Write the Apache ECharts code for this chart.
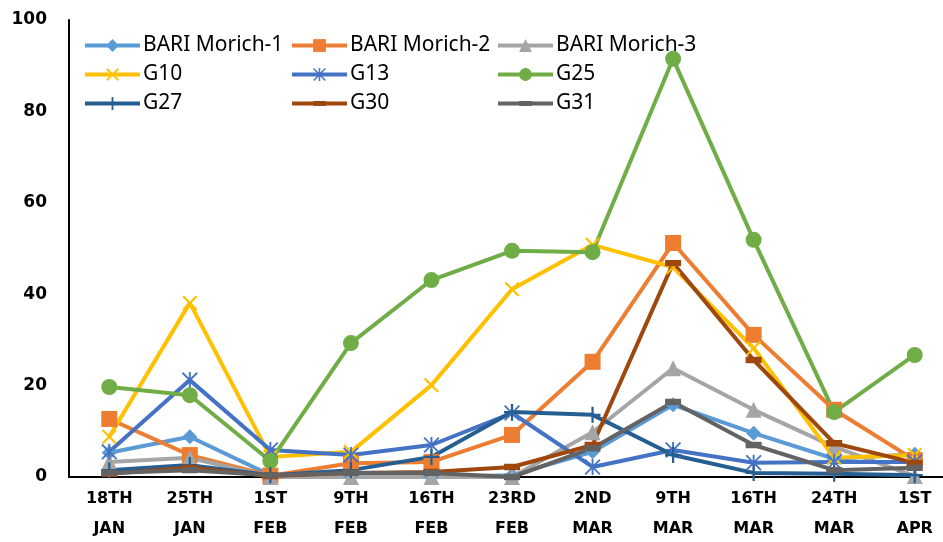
<!DOCTYPE html>
<html>
<head>
<meta charset="utf-8">
<script src="https://cdn.jsdelivr.net/npm/echarts@6/dist/echarts.min.js"></script>
<style>
  html, body { margin: 0; padding: 0; background: #ffffff; }
  #chart { width: 943px; height: 542px; }
</style>
</head>
<body>
<div id="chart"></div>
<script>
// Sampling dates
const categories = ['18TH\nJAN', '25TH\nJAN', '1ST\nFEB', '9TH\nFEB', '16TH\nFEB', '23RD\nFEB',
                    '2ND\nMAR', '9TH\nMAR', '16TH\nMAR', '24TH\nMAR', '1ST\nAPR'];

// Values per genotype
const bariMorich1 = [5.3, 8.8, 0.4, 0.2, 0, 0.4, 5.5, 15.8, 9.6, 4.0, 5.0];
const bariMorich2 = [12.7, 4.8, 0.3, 3.0, 3.3, 9.2, 25.2, 51.2, 31.1, 14.7, 3.7];
const bariMorich3 = [3.3, 4.2, 0, 0, 0, 0, 9.8, 23.8, 14.7, 6.6, 0.2];
const g10 = [8.8, 38.1, 4.4, 5.5, 20.1, 41.1, 50.8, 45.9, 28.2, 4.2, 4.8];
const g13 = [5.5, 21.2, 5.9, 4.8, 7.0, 14.0, 2.2, 5.9, 3.1, 3.3, 3.3];
const g25 = [19.7, 17.9, 3.5, 29.3, 43.1, 49.5, 49.2, 91.5, 51.9, 14.2, 26.7];
const g27 = [1.5, 2.6, 0.4, 1.5, 4.4, 14.2, 13.6, 4.8, 0.9, 0.7, 0.4];
const g30 = [0.7, 2.0, 0.2, 0.9, 1.1, 2.2, 7.0, 46.8, 25.6, 7.4, 3.1];
const g31 = [0.9, 1.5, 0.4, 0.9, 0.9, 0, 6.3, 16.4, 7.0, 1.5, 2.0];

const yTicks = [0, 20, 40, 60, 80, 100];

// Marker shapes
const CROSS = 'path://M0,1L1,0L5,4L9,0L10,1L6,5L10,9L9,10L5,6L1,10L0,9L4,5Z';
const ASTER = 'path://M4.4,0H5.6V10H4.4Z M0.8,0L10,9.2L9.2,10L0,0.8Z M9.2,0L10,0.8L0.8,10L0,9.2Z';
const PLUS = 'path://M4.3,0H5.7V10H4.3Z M0,4.3H10V5.7H0Z';
// flat bar inside a square box (empty corner points keep the box square)
const DASH = 'path://M0,3H10V7H0Z M0,0L0,0Z M10,10L10,10Z';

const seriesDefs = [
  { name: 'BARI Morich-1', data: bariMorich1, color: '#5B9BD5', symbol: 'diamond', size: 15 },
  { name: 'BARI Morich-2', data: bariMorich2, color: '#ED7D31', symbol: 'rect', size: 16 },
  { name: 'BARI Morich-3', data: bariMorich3, color: '#A5A5A5', symbol: 'triangle', size: 16 },
  { name: 'G10', data: g10, color: '#FFC000', symbol: CROSS, size: 15 },
  { name: 'G13', data: g13, color: '#4472C4', symbol: ASTER, size: 16 },
  { name: 'G25', data: g25, color: '#70AD47', symbol: 'circle', size: 16 },
  { name: 'G27', data: g27, color: '#255E91', symbol: PLUS, size: 16 },
  { name: 'G30', data: g30, color: '#9E480E', symbol: DASH, size: 16 },
  { name: 'G31', data: g31, color: '#636363', symbol: DASH, size: 16 }
];

// Legend laid out in three columns and three rows
const legendCols = [78, 285, 491];
const legendRows = [30, 59, 88];
const legends = seriesDefs.map((s, i) => ({
  data: [s.name],
  left: legendCols[i % 3],
  top: legendRows[Math.floor(i / 3)],
  itemWidth: 55,
  itemHeight: 16,
  itemGap: 0,
  selectedMode: false,
  lineStyle: { width: 4 },
  textStyle: { fontFamily: 'Noto Sans', fontSize: 21, color: '#000000', padding: [0, 0, 0, -2] }
}));

const chart = echarts.init(document.getElementById('chart'), null, { renderer: 'canvas' });
chart.setOption({
  backgroundColor: '#ffffff',
  animation: false,
  legend: legends,
  grid: { left: 69, right: -12, top: 20, bottom: 65, containLabel: false, outerBoundsMode: 'none' },
  xAxis: {
    type: 'category',
    data: categories,
    boundaryGap: true,
    axisLine: { lineStyle: { color: '#000000', width: 2 } },
    axisTick: { show: false },
    axisLabel: {
      interval: 0,
      margin: 7,
      fontFamily: 'DejaVu Sans',
      fontWeight: 'bold',
      fontSize: 16,
      lineHeight: 30,
      color: '#000000'
    },
    splitLine: { show: false }
  },
  yAxis: {
    type: 'value',
    min: yTicks[0],
    max: yTicks[yTicks.length - 1],
    interval: yTicks[1] - yTicks[0],
    axisLine: { show: true, lineStyle: { color: '#000000', width: 2 } },
    axisTick: { show: false },
    splitLine: { show: false },
    axisLabel: {
      margin: 22,
      fontFamily: 'DejaVu Sans',
      fontWeight: 'bold',
      fontSize: 17,
      color: '#000000'
    }
  },
  series: seriesDefs.map(s => ({
    name: s.name,
    type: 'line',
    data: s.data,
    symbol: s.symbol,
    symbolSize: s.size,
    showAllSymbol: true,
    color: s.color,
    lineStyle: { width: 4, color: s.color },
    itemStyle: { color: s.color, borderWidth: 0 },
    emphasis: { disabled: true }
  }))
});
</script>
</body>
</html>
